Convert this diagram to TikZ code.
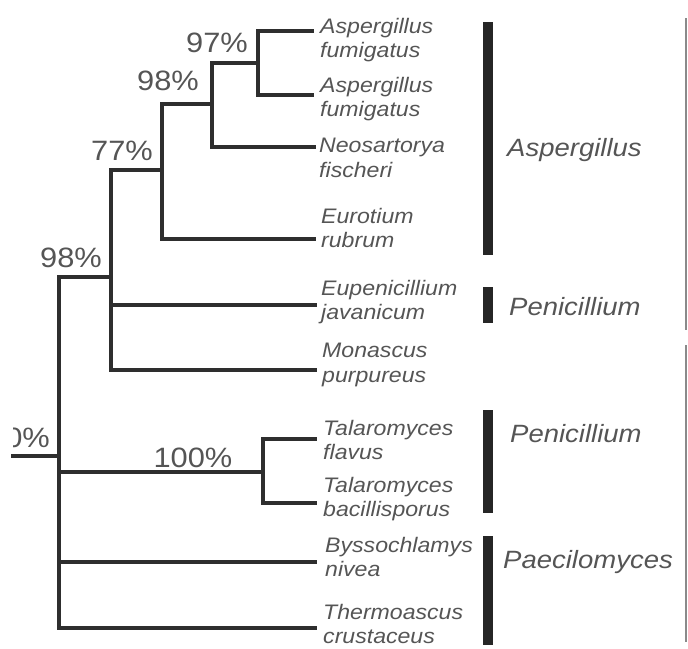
\documentclass[tikz,border=0pt]{standalone}
\usepackage{fontspec}
\setmainfont{Liberation Sans}[FakeStretch=1.1]
\usetikzlibrary{positioning}
\definecolor{branchgray}{HTML}{2E2E2E}
\definecolor{labelgray}{HTML}{555555}
\definecolor{bargray}{HTML}{262626}
\definecolor{rulegray}{HTML}{8A8A8A}

\begin{document}
\begin{tikzpicture}[x=1pt, y=-1pt,
  branch/.style={line width=3.6pt, draw=branchgray, line cap=rect},
  support/.style={anchor=base, inner sep=0pt, text=labelgray, font=\fontsize{28}{30}\selectfont},
  taxon/.style={anchor=north west, inner sep=0pt, align=left, text=labelgray, font=\fontsize{21}{24.5}\selectfont\itshape},
  cladebar/.style={line width=9.5pt, draw=bargray},
  clade/.style={anchor=base west, inner sep=0pt, text=labelgray, font=\fontsize{25}{28}\selectfont\itshape},
  groupline/.style={line width=2pt, draw=rulegray}]
\useasboundingbox (0,0) rectangle (688,648);
% Internal nodes
\coordinate (stem) at (13,456);
\coordinate (root) at (59,456);
\coordinate (n98b) at (111,277);
\coordinate (n77) at (162,170);
\coordinate (n98a) at (212,104);
\coordinate (n97) at (258,63);
\coordinate (n100) at (263,472);
% Leaf ends
\coordinate (l1) at (312,31);
\coordinate (l2) at (312,95);
\coordinate (l3) at (314,147);
\coordinate (l4) at (314,239);
\coordinate (l5) at (315,305);
\coordinate (l6) at (315,370);
\coordinate (l7) at (315,439);
\coordinate (l8) at (315,503);
\coordinate (l9) at (315,562);
\coordinate (l10) at (315,628);
% Branches
\draw[branch] (stem) -- (root);
\draw[branch] (root) |- (n98b);
\draw[branch] (root) |- (n100);
\draw[branch] (root) |- (l9);
\draw[branch] (root) |- (l10);
\draw[branch] (n98b) |- (n77);
\draw[branch] (n98b) |- (l5);
\draw[branch] (n98b) |- (l6);
\draw[branch] (n77) |- (n98a);
\draw[branch] (n77) |- (l4);
\draw[branch] (n98a) |- (n97);
\draw[branch] (n98a) |- (l3);
\draw[branch] (n97) |- (l1);
\draw[branch] (n97) |- (l2);
\draw[branch] (n100) |- (l7);
\draw[branch] (n100) |- (l8);
% Support values
\node[support] (s97) at (217,52) {97\%};
\node[support] (s98a) at (168,90) {98\%};
\node[support] (s77) at (122,160) {77\%};
\node[support] (s98b) at (71,267) {98\%};
\node[support] (s100) at (193,467) {100\%};
\begin{scope}
\clip (13,400) rectangle (60,460);
\node[support, anchor=base east] (sroot) at (50,447) {100\%};
\end{scope}
% Taxa
\node[taxon] (t1) at (320,18) {Aspergillus\\fumigatus};
\node[taxon] (t2) at (320,77) {Aspergillus\\fumigatus};
\node[taxon] (t3) at (319,138) {Neosartorya\\fischeri};
\node[taxon] (t4) at (321,208) {Eurotium\\rubrum};
\node[taxon] (t5) at (321,280) {Eupenicillium\\javanicum};
\node[taxon] (t6) at (322,343) {Monascus\\purpureus};
\node[taxon] (t7) at (323,420) {Talaromyces\\flavus};
\node[taxon] (t8) at (323,477) {Talaromyces\\bacillisporus};
\node[taxon] (t9) at (325,537) {Byssochlamys\\nivea};
\node[taxon] (t10) at (323,604) {Thermoascus\\crustaceus};
% Genus bars
\coordinate (aspA) at (488,22);
\coordinate (aspB) at (488,255);
\coordinate (penA) at (488,287);
\coordinate (penB) at (488,323);
\coordinate (talA) at (488,410);
\coordinate (talB) at (488,513);
\coordinate (paeA) at (488,536);
\coordinate (paeB) at (488,645);
\draw[cladebar] (aspA) -- (aspB);
\draw[cladebar] (penA) -- (penB);
\draw[cladebar] (talA) -- (talB);
\draw[cladebar] (paeA) -- (paeB);
\node[clade] (gasp) at (507,156) {Aspergillus};
\node[clade] (gpen1) at (509,315) {Penicillium};
\node[clade] (gpen2) at (510,442) {Penicillium};
\node[clade] (gpae) at (503,568) {Paecilomyces};
% Outer group lines
\coordinate (upA) at (686,18);
\coordinate (upB) at (686,330);
\coordinate (loA) at (686,345);
\coordinate (loB) at (686,642);
\draw[groupline] (upA) -- (upB);
\draw[groupline] (loA) -- (loB);
\end{tikzpicture}
\end{document}
